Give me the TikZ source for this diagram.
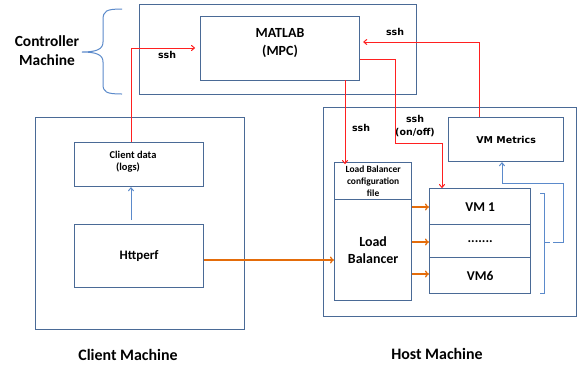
\documentclass[tikz,border=0pt]{standalone}
\usepackage{fontspec}
\setmainfont{Carlito}
\newfontfamily\wideface{DejaVu Sans}
\usetikzlibrary{arrows.meta}
\definecolor{frame}{HTML}{4A6A96}
\definecolor{lblue}{HTML}{5B8ACB}
\definecolor{sshred}{HTML}{FF2020}
\definecolor{org}{HTML}{E46C0A}
\tikzset{
  box/.style={draw=frame, line width=1.3bp, fill=white, inner sep=0pt, anchor=north west, align=center, font=\bfseries},
  redline/.style={draw=sshred, line width=1bp, -{To[length=4bp,width=6bp]}},
  orgline/.style={draw=org, line width=1.3bp, -{To[length=4bp,width=7bp]}},
  blueline/.style={draw=lblue, line width=1bp},
  lbl/.style={font=\wideface\bfseries\fontsize{9.5}{13}\selectfont, align=center, inner sep=0pt},
}
\begin{document}
\begin{tikzpicture}[x=1bp,y=-1bp]
\useasboundingbox[fill=white] (0,0) rectangle (577,368);
% machines
\node[box, minimum width=277bp, minimum height=90bp] (ctrl) at (139,4) {};
\node[box, minimum width=209bp, minimum height=212bp] (client) at (35,117) {};
\node[box, minimum width=253bp, minimum height=209bp] (host) at (323,107) {};
% inner boxes
\node[box, minimum width=159bp, minimum height=64bp] (matlab) at (200,16) {};
\node[font=\bfseries\fontsize{14}{19}\selectfont, align=center] (mtxt) at (280,43) {MATLAB\\(MPC)};
\node[box, minimum width=129bp, minimum height=44bp] (cdata) at (74,142) {};
\node[font=\bfseries\fontsize{10.5}{12}\selectfont, align=center, anchor=center] (ctxt) at (133,162) {Client data\\(logs)\hspace*{10bp}};
\node[box, minimum width=129bp, minimum height=63bp, font=\bfseries\fontsize{13}{15}\selectfont] (httperf) at (74,224) {Httperf};
\node[box, minimum width=115bp, minimum height=44bp, font=\wideface\bfseries\fontsize{9.5}{12}\selectfont] (vmm) at (448,117) {VM Metrics};
\node[box, minimum width=77bp, minimum height=37bp, font=\bfseries\fontsize{9.5}{12}\selectfont] (lbcfg) at (334,162) {Load Balancer\\configuration\\file};
\node[box, minimum width=77bp, minimum height=101bp, font=\bfseries\fontsize{14}{18}\selectfont] (lb) at (334,199) {Load\\Balancer};
\node[box, minimum width=101bp, minimum height=36bp, font=\bfseries\fontsize{13.5}{15}\selectfont] (vm1) at (429,188) {VM 1};
\node[box, minimum width=101bp, minimum height=33bp, font=\bfseries\fontsize{13.5}{15}\selectfont] (vmd) at (429,224) {.......};
\node[box, minimum width=101bp, minimum height=36bp, font=\bfseries\fontsize{13.5}{15}\selectfont] (vm6) at (429,257) {VM6};
% labels
\node[font=\bfseries\fontsize{15.5}{19}\selectfont, align=center] (ctrllbl) at (47,51) {Controller\\Machine};
\node[font=\bfseries\fontsize{16}{18}\selectfont] (clientlbl) at (128,355) {Client Machine};
\node[font=\bfseries\fontsize{16}{18}\selectfont] (hostlbl) at (437,354) {Host Machine};
\node[lbl] (l1) at (167,55) {ssh};
\node[lbl] (l2) at (395,32) {ssh};
\node[lbl] (l3) at (361,128) {ssh};
\node[lbl, align=center] (l4) at (415,126) {ssh\\(on/off)};
% brace
\draw[lblue, line width=1bp] (122,9) .. controls (106,9) and (103,11) .. (103,20) -- (103,42)
  .. controls (103,49) and (97,52) .. (82,52)
  .. controls (97,52) and (103,55) .. (103,62) -- (103,84)
  .. controls (103,92) and (106,94) .. (122,94);
% red ssh connectors
\coordinate (c1) at (131,48);
\draw[redline] (cdata.north -| c1) -- (c1) -- ([xshift=-5bp]matlab.west |- c1);
\coordinate (c2) at (479,42);
\draw[redline] (vmm.north -| c2) -- (c2) -- ([xshift=3bp]matlab.east |- c2);
\coordinate (c3) at (345,80);
\draw[redline] (c3) -- ([yshift=-2bp]lbcfg.north -| c3);
\coordinate (c4a) at (395,59);
\coordinate (c4b) at (395,143);
\coordinate (c4c) at (442,143);
\draw[redline] (matlab.east |- c4a) -- (c4a) -- (c4b) -- (c4c) -- (vm1.north -| c4c);
% orange
\draw[orgline] (httperf.east |- 0,260) -- (lb.west |- 0,260);
\draw[orgline] (lb.east |- 0,207) -- (vm1.west |- 0,207);
\draw[orgline] (lb.east |- 0,242) -- (vmd.west |- 0,242);
\draw[orgline] (lb.east |- 0,274) -- (vm6.west |- 0,274);
% blue
\draw[blueline, -{To[length=4bp,width=6bp]}] (131,220) -- (cdata.south -| 131,0);
\draw[blueline] (540,193) -- (544,193) -- (544,293) -- (540,293);
\draw[blueline] (544,242) -- (550,242);
\draw[blueline, -{To[length=4bp,width=6bp]}] (553,242) -- (563,242) -- (563,183) -- (502,183) -- (vmm.south -| 502,0);
\end{tikzpicture}
\end{document}
